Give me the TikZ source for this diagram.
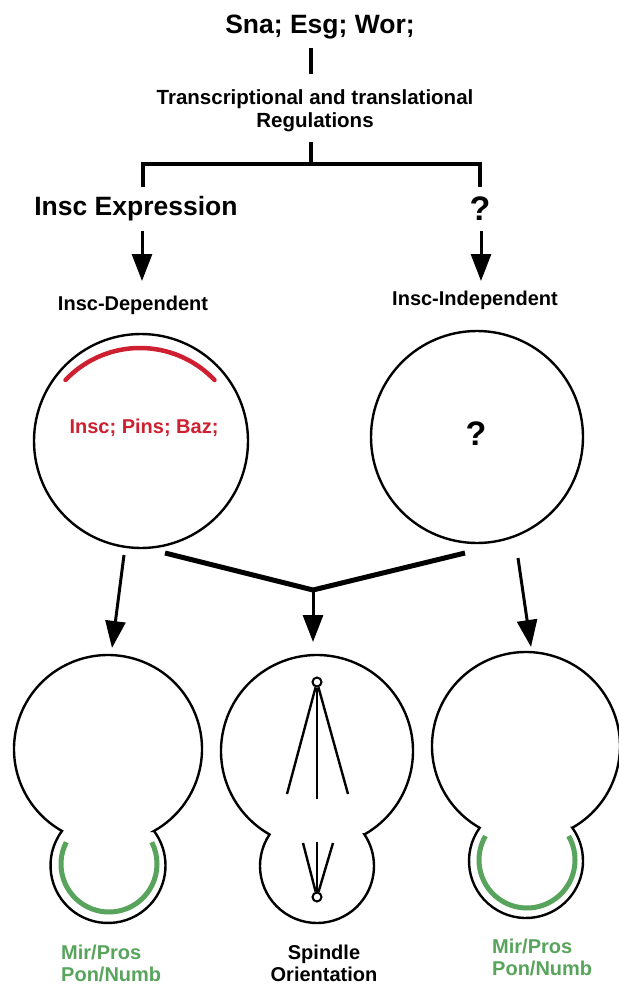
\documentclass[tikz,border=0pt]{standalone}
\usepackage{fontspec}
\setmainfont{Liberation Sans}
\usetikzlibrary{arrows.meta}
\definecolor{inscred}{RGB}{206,32,48}
\definecolor{budgreen}{RGB}{88,164,92}

% Budding cell outline: big circle (centre #1,#2, radius #3) joined at the
% neck to a small circle (centre #1,#4, radius #5); #6 names its top point.
% Squares are taken in hundreds to stay inside pgfmath's range.
\newcommand{\budcell}[6]{%
  \pgfmathsetmacro\cellDr{#4-#2}%
  \pgfmathsetmacro\cellD{\cellDr/100}%
  \pgfmathsetmacro\cellA{100*(\cellD*\cellD+(#3/100)^2-(#5/100)^2)/(2*\cellD)}%
  \pgfmathsetmacro\cellH{100*sqrt((#3/100)^2-(\cellA/100)^2)}%
  \pgfmathsetmacro\cellAl{atan2(\cellA,\cellH)}%
  \pgfmathsetmacro\cellGa{atan2(\cellDr-\cellA,\cellH)}%
  \coordinate (#6) at (#1,#2-#3);
  \draw[outline] (#1,#2) ++(\cellAl:#3)
    arc[start angle=\cellAl, end angle=-180-\cellAl, radius=#3]
    arc[start angle=180+\cellGa, end angle=-\cellGa, radius=#5] -- cycle;
}

\begin{document}
\begin{tikzpicture}[x=1pt,y=-1pt,
  lbl/.style={inner sep=0pt, font=\bfseries\fontsize{20}{23}\selectfont},
  outlbl/.style={inner sep=0pt, font=\bfseries\fontsize{20}{22}\selectfont},
  biglbl/.style={inner sep=0pt, font=\bfseries\fontsize{26.5}{30}\selectfont},
  qmark/.style={inner sep=0pt, font=\bfseries\fontsize{34}{38}\selectfont},
  bar/.style={line width=4pt},
  arr/.style={line width=3pt, -{Triangle[length=27pt,width=20pt]}},
  fork/.style={line width=5pt, line join=miter},
  outline/.style={line width=2.4pt},
  cellcirc/.style={circle, draw, line width=2.4pt, inner sep=0pt},
  crescent/.style={line width=5pt, color=budgreen},
  pole/.style={circle, draw, line width=2pt, inner sep=0pt, minimum size=9pt},
  fibre/.style={line width=2.4pt}]

\useasboundingbox[fill=white] (0,0) rectangle (618,987);

% regulators and the branching bracket
\node[biglbl, anchor=base] (top) at (320,34) {Sna; Esg; Wor;};
\node[lbl, anchor=north, align=center, font=\bfseries\fontsize{20.5}{23}\selectfont]
  (reg) at (315,89) {Transcriptional and translational\\Regulations};
\coordinate (barA) at (311,48);
\coordinate (barB) at (311,74);
\coordinate (barC) at (311,142);
\coordinate (brM) at (311,164);
\coordinate (brL) at (143,164);
\coordinate (brR) at (480,164);
\coordinate (stubL) at (143,187);
\coordinate (stubR) at (480,187);
\draw[bar] (barA) -- (barB);
\draw[bar] (barC) -- (brM);
\draw[bar, line join=miter] (stubL) -- (brL) -- (brR) -- (stubR);

% the two branches
\node[biglbl, anchor=base] (expr) at (136,215) {Insc Expression};
\node[qmark, anchor=base] (unk) at (480,220) {?};
\coordinate (arLa) at (142,231);
\coordinate (arLb) at (142,281);
\coordinate (arRa) at (481,231);
\coordinate (arRb) at (481,281);
\draw[arr] (arLa) -- (arLb);
\draw[arr] (arRa) -- (arRb);
\node[lbl, anchor=base] (dep) at (133,310) {Insc-Dependent};
\node[lbl, anchor=base] (indep) at (475,305) {Insc-Independent};

% interphase neuroblasts
\node[cellcirc, minimum size=214pt] (nbL) at (141,441) {};
\node[cellcirc, minimum size=212pt] (nbR) at (477,437) {};
\draw[line width=4.5pt, color=inscred, line cap=round]
  (140,450.7) ++(-136.5:102.7) arc[start angle=-136.5, end angle=-43.5, radius=102.7];
\node[lbl, anchor=base, text=inscred] (cpx) at (144,433) {Insc; Pins; Baz;};
\node[qmark, anchor=base] (unk2) at (476,445) {?};

% connectors to the dividing cells
\coordinate (lowLa) at (124,555);
\coordinate (lowLb) at (112,648);
\coordinate (lowRa) at (518,558);
\coordinate (lowRb) at (531,647);
\coordinate (vL) at (165,553);
\coordinate (vR) at (465,553);
\coordinate (vM) at (313,590);
\coordinate (vTip) at (313,642);
\draw[arr] (lowLa) -- (lowLb);
\draw[arr] (lowRa) -- (lowRb);
\draw[fork] (vL) -- (vM) -- (vR);
\draw[arr] (vM) -- (vTip);

% dividing cells
\budcell{108}{749}{94}{865.5}{57.5}{cellL}
\budcell{317}{751}{96}{866}{57}{cellM}
\budcell{526}{746}{94}{861}{57}{cellR}

% basal crescents
\draw[crescent] (109,864) ++(207:48) arc[start angle=207, end angle=-27, radius=48];
\draw[crescent] (527,860) ++(210:48) arc[start angle=210, end angle=-30, radius=48];

% mitotic spindle
\node[pole] (poleT) at (317,682) {};
\node[pole] (poleB) at (317,897) {};
\coordinate (ftL) at (287,794);
\coordinate (ftM) at (317,799);
\coordinate (ftR) at (348,794);
\coordinate (fbL) at (303,843);
\coordinate (fbM) at (317,842);
\coordinate (fbR) at (333,843);
\draw[fibre] (poleT) -- (ftL);
\draw[fibre] (poleT) -- (ftM);
\draw[fibre] (poleT) -- (ftR);
\draw[fibre] (poleB) -- (fbL);
\draw[fibre] (poleB) -- (fbM);
\draw[fibre] (poleB) -- (fbR);

% outcome labels
\node[outlbl, anchor=north west, align=left, text=budgreen] (outL) at (61,945) {Mir/Pros\\Pon/Numb};
\node[outlbl, anchor=north, align=center] (outM) at (324,945) {Spindle\\Orientation};
\node[outlbl, anchor=north west, align=left, text=budgreen] (outR) at (492,939) {Mir/Pros\\Pon/Numb};
\end{tikzpicture}
\end{document}
